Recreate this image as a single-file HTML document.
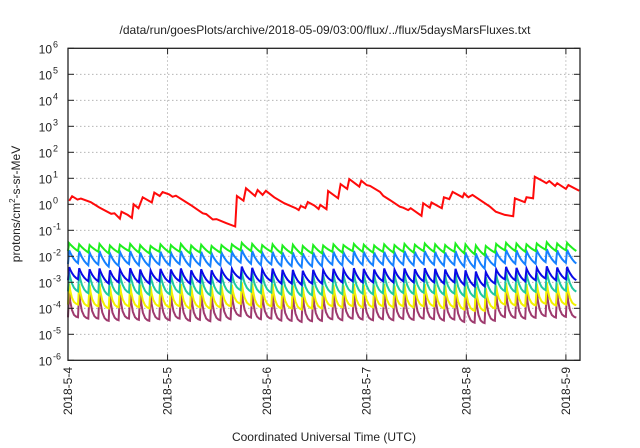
<!DOCTYPE html>
<html><head><meta charset="utf-8"><style>
html,body{margin:0;padding:0;background:#fff;}
svg{display:block;font-family:"Liberation Sans",sans-serif;}
</style></head><body>
<svg id="chart" width="640" height="448" viewBox="0 0 640 448" xmlns="http://www.w3.org/2000/svg">
<rect width="640" height="448" fill="#fff"/>
<text x="325" y="34" font-size="12" text-anchor="middle" fill="#222">/data/run/goesPlots/archive/2018-05-09/03:00/flux/../flux/5daysMarsFluxes.txt</text>
<g id="grid"></g>
<g id="series"></g>
<rect x="68" y="48.3" width="512" height="312" fill="none" stroke="#222" stroke-width="1.3"/>
<g id="axes"></g>
<text transform="translate(20,204) rotate(-90)" font-size="12" text-anchor="middle" fill="#222">protons/cm<tspan font-size="8" dy="-5">2</tspan><tspan dy="5">-s-sr-MeV</tspan></text>
<text x="324" y="441" font-size="12" text-anchor="middle" fill="#222">Coordinated Universal Time (UTC)</text>
</svg>
<script>
// ---- data ----
const dayLabels = ["2018-5-4","2018-5-5","2018-5-6","2018-5-7","2018-5-8","2018-5-9"];
const yExponents = [-6,-5,-4,-3,-2,-1,0,1,2,3,4,5,6];
const redHours = [0.3,1.0,2.3,3.1,5.5,7.5,10.4,11.2,12.5,12.9,14.4,15.4,15.8,17.0,18.0,20.2,20.8,22.1,22.8,24.4,25.2,26.0,29.6,32.5,33.3,34.9,35.8,38.1,40.3,40.7,42.3,42.9,45.1,45.7,46.9,47.7,49.7,52.1,54.9,55.6,56.1,57.2,57.8,59.4,60.4,60.8,62.3,62.7,65.1,65.7,67.3,67.8,70.2,70.7,72.0,72.8,75.2,76.0,77.6,80.0,80.8,82.0,82.6,85.2,85.6,87.2,87.6,90.1,90.6,91.9,92.7,95.1,95.5,96.5,97.5,101.7,103.1,105.3,107.3,107.7,110.1,110.5,112.1,112.5,114.4,115.3,116.0,117.4,117.9,120.0,120.6,123.2];
const redValues = [1.35,2.04,1.51,1.66,1.2,0.76,0.43,0.45,0.28,0.52,0.39,0.30,1.0,0.71,1.86,1.17,2.82,2.09,2.95,2.4,1.95,2.14,0.93,0.45,0.42,0.26,0.27,0.19,0.14,2.09,1.38,4.17,2.09,3.55,2.29,3.31,1.86,1.1,0.71,0.6,0.87,0.72,1.23,0.89,0.66,0.95,0.65,3.24,1.7,6.0,3.9,9.3,4.8,8.1,5.5,5.1,3.0,2.1,1.45,0.81,0.74,0.6,0.71,0.36,1.1,0.74,1.17,0.71,1.86,1.58,3.0,1.86,2.63,1.86,2.29,0.81,0.52,0.39,0.35,1.7,1.2,1.86,1.7,11.5,7.9,6.5,7.9,5.1,6.5,3.9,5.5,3.3];
const cycleHours = [0.0,2.4,4.9,7.3,9.8,12.2,14.7,17.1,19.6,22.0,24.5,26.9,29.4,31.8,34.3,36.7,39.2,41.6,44.1,46.5,49.0,51.4,53.9,56.3,58.8,61.2,63.7,66.1,68.6,71.0,73.5,75.9,78.4,80.8,83.3,85.7,88.2,90.6,93.1,95.5,98.0,100.4,102.9,105.3,107.8,110.2,112.7,115.1,117.6,120.0,122.5];
const greenPeaks = [3.2e-2,2.9e-2,2.7e-2,3.0e-2,2.6e-2,2.8e-2,3.0e-2,2.7e-2,2.5e-2,2.9e-2,2.7e-2,3.0e-2,2.6e-2,2.8e-2,2.5e-2,2.7e-2,2.9e-2,3.3e-2,3.0e-2,2.7e-2,2.9e-2,2.6e-2,2.8e-2,2.5e-2,2.7e-2,2.6e-2,2.9e-2,2.7e-2,3.0e-2,2.8e-2,2.6e-2,2.9e-2,2.7e-2,3.0e-2,2.8e-2,3.1e-2,2.9e-2,2.7e-2,3.1e-2,2.9e-2,2.6e-2,2.5e-2,3.0e-2,3.3e-2,3.1e-2,2.9e-2,3.1e-2,3.5e-2,3.1e-2,3.3e-2,3.1e-2];
const greenTroughs = [1.6e-2,1.6e-2,1.4e-2,1.5e-2,1.3e-2,1.4e-2,1.6e-2,1.4e-2,1.3e-2,1.5e-2,1.4e-2,1.5e-2,1.3e-2,1.4e-2,1.3e-2,1.4e-2,1.5e-2,1.7e-2,1.6e-2,1.4e-2,1.5e-2,1.3e-2,1.3e-2,1.2e-2,1.3e-2,1.3e-2,1.5e-2,1.4e-2,1.6e-2,1.5e-2,1.4e-2,1.5e-2,1.4e-2,1.5e-2,1.4e-2,1.6e-2,1.5e-2,1.4e-2,1.5e-2,1.3e-2,1.2e-2,1.1e-2,1.4e-2,1.7e-2,1.6e-2,1.5e-2,1.6e-2,1.8e-2,1.6e-2,1.7e-2,1.6e-2];
const lblueTroughs = [5.0e-3,5.5e-3,4.5e-3,4.8e-3,4.0e-3,4.3e-3,5.0e-3,4.5e-3,4.2e-3,4.8e-3,4.5e-3,5.0e-3,4.2e-3,4.6e-3,4.2e-3,4.5e-3,4.8e-3,5.8e-3,5.2e-3,4.6e-3,4.9e-3,4.3e-3,4.2e-3,3.8e-3,4.1e-3,4.2e-3,4.8e-3,4.5e-3,5.0e-3,4.7e-3,4.5e-3,4.8e-3,4.4e-3,4.8e-3,4.5e-3,5.0e-3,4.8e-3,4.4e-3,4.7e-3,4.0e-3,3.6e-3,3.4e-3,4.3e-3,5.5e-3,5.2e-3,4.9e-3,5.2e-3,6.0e-3,5.3e-3,5.6e-3,5.3e-3];
const lbluePeaks = [1.7e-2,1.6e-2,1.4e-2,1.6e-2,1.3e-2,1.5e-2,1.6e-2,1.4e-2,1.3e-2,1.5e-2,1.4e-2,1.6e-2,1.3e-2,1.5e-2,1.3e-2,1.4e-2,1.5e-2,1.8e-2,1.6e-2,1.4e-2,1.5e-2,1.4e-2,1.4e-2,1.3e-2,1.4e-2,1.4e-2,1.5e-2,1.4e-2,1.6e-2,1.5e-2,1.4e-2,1.5e-2,1.4e-2,1.6e-2,1.5e-2,1.6e-2,1.5e-2,1.4e-2,1.6e-2,1.4e-2,1.3e-2,1.2e-2,1.5e-2,1.8e-2,1.7e-2,1.6e-2,1.7e-2,1.9e-2,1.7e-2,1.8e-2,1.7e-2];
const dblueTroughs = [1.2e-3,1.3e-3,1.1e-3,1.1e-3,9e-4,1.0e-3,1.1e-3,1.0e-3,9e-4,1.1e-3,1.0e-3,1.1e-3,9e-4,1.0e-3,9e-4,1.0e-3,1.1e-3,1.4e-3,1.2e-3,1.0e-3,1.1e-3,9e-4,9e-4,8e-4,9e-4,9e-4,1.1e-3,1.0e-3,1.1e-3,1.0e-3,1.0e-3,1.1e-3,1.0e-3,1.1e-3,1.0e-3,1.1e-3,1.0e-3,9e-4,1.0e-3,8e-4,7e-4,7e-4,9e-4,1.3e-3,1.2e-3,1.1e-3,1.2e-3,1.4e-3,1.2e-3,1.3e-3,1.2e-3];
const dbluePeaks = [3.8e-3,3.5e-3,3.2e-3,3.4e-3,2.9e-3,3.2e-3,3.5e-3,3.1e-3,2.9e-3,3.3e-3,3.1e-3,3.4e-3,2.9e-3,3.2e-3,2.9e-3,3.1e-3,3.3e-3,4.0e-3,3.6e-3,3.2e-3,3.4e-3,3.0e-3,3.0e-3,2.8e-3,3.0e-3,3.0e-3,3.3e-3,3.1e-3,3.5e-3,3.3e-3,3.1e-3,3.4e-3,3.1e-3,3.4e-3,3.2e-3,3.5e-3,3.3e-3,3.1e-3,3.3e-3,2.9e-3,2.6e-3,2.5e-3,3.1e-3,3.9e-3,3.6e-3,3.4e-3,3.6e-3,4.1e-3,3.7e-3,3.9e-3,3.6e-3];
const tealTroughs = [4.5e-4,4.5e-4,3.8e-4,4.0e-4,3.2e-4,3.5e-4,4.0e-4,3.6e-4,3.3e-4,3.8e-4,3.5e-4,4.0e-4,3.3e-4,3.6e-4,3.2e-4,3.5e-4,3.8e-4,5.0e-4,4.4e-4,3.8e-4,4.0e-4,3.4e-4,3.3e-4,3.0e-4,3.2e-4,3.3e-4,3.8e-4,3.5e-4,4.0e-4,3.7e-4,3.5e-4,3.8e-4,3.5e-4,3.9e-4,3.6e-4,4.0e-4,3.8e-4,3.4e-4,3.7e-4,3.0e-4,2.7e-4,2.6e-4,3.3e-4,4.6e-4,4.3e-4,4.0e-4,4.3e-4,5.0e-4,4.4e-4,4.7e-4,4.4e-4];
const tealPeaks = [2.4e-3,2.2e-3,2.0e-3,2.2e-3,1.8e-3,2.0e-3,2.2e-3,2.0e-3,1.8e-3,2.1e-3,2.0e-3,2.2e-3,1.8e-3,2.0e-3,1.8e-3,2.0e-3,2.1e-3,2.6e-3,2.3e-3,2.0e-3,2.2e-3,1.9e-3,1.9e-3,1.7e-3,1.9e-3,1.9e-3,2.1e-3,2.0e-3,2.2e-3,2.1e-3,2.0e-3,2.2e-3,2.0e-3,2.2e-3,2.0e-3,2.2e-3,2.1e-3,1.9e-3,2.1e-3,1.8e-3,1.6e-3,1.6e-3,2.0e-3,2.5e-3,2.3e-3,2.2e-3,2.3e-3,2.6e-3,2.3e-3,2.5e-3,2.3e-3];
const yellowTroughs = [1.4e-4,1.4e-4,1.2e-4,1.2e-4,1.0e-4,1.1e-4,1.2e-4,1.1e-4,1.0e-4,1.2e-4,1.1e-4,1.2e-4,1.0e-4,1.1e-4,1.0e-4,1.1e-4,1.2e-4,1.5e-4,1.3e-4,1.1e-4,1.2e-4,1.0e-4,1.0e-4,9e-5,1.0e-4,1.0e-4,1.2e-4,1.1e-4,1.2e-4,1.1e-4,1.1e-4,1.2e-4,1.1e-4,1.2e-4,1.1e-4,1.2e-4,1.2e-4,1.0e-4,1.1e-4,9e-5,8e-5,8e-5,1.0e-4,1.4e-4,1.3e-4,1.2e-4,1.3e-4,1.5e-4,1.3e-4,1.4e-4,1.3e-4];
const yellowPeaks = [9e-4,8.5e-4,8e-4,8.5e-4,7e-4,8e-4,8.5e-4,8e-4,7e-4,8e-4,7.5e-4,8.5e-4,7e-4,8e-4,7e-4,7.5e-4,8e-4,1.0e-3,9e-4,8e-4,8.5e-4,7.5e-4,7.5e-4,6.5e-4,7e-4,7e-4,8e-4,7.5e-4,8.5e-4,8e-4,7.5e-4,8.5e-4,7.5e-4,8.5e-4,8e-4,8.5e-4,8e-4,7.5e-4,8e-4,7e-4,6.5e-4,6e-4,7.5e-4,9.5e-4,9e-4,8.5e-4,9e-4,1.0e-3,9e-4,9.5e-4,9e-4];
const purpleTroughs = [4.5e-5,4.5e-5,4.0e-5,4.0e-5,3.3e-5,3.5e-5,4.0e-5,3.6e-5,3.3e-5,3.8e-5,3.5e-5,4.0e-5,3.3e-5,3.6e-5,3.2e-5,3.5e-5,3.8e-5,5.0e-5,4.4e-5,3.8e-5,4.0e-5,3.4e-5,3.3e-5,3.0e-5,3.2e-5,3.3e-5,3.8e-5,3.5e-5,4.0e-5,3.7e-5,3.5e-5,3.8e-5,3.5e-5,3.9e-5,3.6e-5,4.0e-5,3.8e-5,3.4e-5,3.7e-5,3.0e-5,2.8e-5,2.7e-5,3.3e-5,4.6e-5,4.3e-5,4.0e-5,4.3e-5,5.0e-5,4.4e-5,4.7e-5,4.4e-5];
const purplePeaks = [4.5e-4,4.2e-4,4.0e-4,4.2e-4,3.5e-4,4.0e-4,4.2e-4,4.0e-4,3.5e-4,4.0e-4,3.8e-4,4.2e-4,3.5e-4,4.0e-4,3.5e-4,3.8e-4,4.0e-4,5.0e-4,4.5e-4,4.0e-4,4.2e-4,3.8e-4,3.8e-4,3.3e-4,3.5e-4,3.5e-4,4.0e-4,3.8e-4,4.2e-4,4.0e-4,3.8e-4,4.2e-4,3.8e-4,4.2e-4,4.0e-4,4.2e-4,4.0e-4,3.8e-4,4.0e-4,3.5e-4,3.3e-4,3.0e-4,3.8e-4,4.8e-4,4.5e-4,4.2e-4,4.5e-4,5.0e-4,4.5e-4,4.8e-4,4.5e-4];

// ---- layout ----
const X0=68, X1=580, Y0=360.3, Y1=48.3, HMAX=123.4;
const NS="http://www.w3.org/2000/svg";
function xs(h){return X0+(h/HMAX)*(X1-X0);}
function ys(v){const l=Math.log10(v);return Y0-(l+6)/12*(Y0-Y1);}
function mk(tag,attrs,parent){const e=document.createElementNS(NS,tag);for(const k in attrs)e.setAttribute(k,attrs[k]);parent.appendChild(e);return e;}
const grid=document.getElementById('grid'), axes=document.getElementById('axes'), series=document.getElementById('series');

yExponents.forEach(function(ex){
  const y=ys(Math.pow(10,ex));
  if(ex>-6&&ex<6){
    const g=mk('line',{x1:X0,x2:X1,y1:y,y2:y,stroke:'#aaa','stroke-width':0.8,'stroke-dasharray':'1.5,2.5'},grid);
    
    
  }
  const t1=mk('line',{x1:X0,x2:X0+6,y1:y,y2:y,stroke:'#222','stroke-width':1},axes);
  
  
  const t2=mk('line',{x1:X1-6,x2:X1,y1:y,y2:y,stroke:'#222','stroke-width':1},axes);
  
  
  const tx=mk('text',{x:52,y:y+5,'font-size':12,'text-anchor':'end',fill:'#222'},axes);
  
  
  tx.appendChild(document.createTextNode('10'));
  const sp=mk('tspan',{x:53,dy:-6,'font-size':9,'text-anchor':'start'},tx);
  sp.textContent=String(ex);
});

dayLabels.forEach(function(lab,i){
  const x=xs(i*24);
  if(i>0){
    const g=mk('line',{x1:x,x2:x,y1:Y1,y2:Y0,stroke:'#aaa','stroke-width':0.8,'stroke-dasharray':'1.5,2.5'},grid);
    
    
  }
  const t1=mk('line',{x1:x,x2:x,y1:Y0,y2:Y0-6,stroke:'#222','stroke-width':1},axes);
  
  
  const t2=mk('line',{x1:x,x2:x,y1:Y1,y2:Y1+6,stroke:'#222','stroke-width':1},axes);
  
  
  const tx=mk('text',{transform:'translate('+(x+4)+',367) rotate(-90)','font-size':12,'text-anchor':'end',fill:'#222'},axes);
  
  
  tx.textContent=lab;
});

function cyclePath(peaks,troughs,k){
  const pts=[];
  const fr=[0,0.12,0.3,0.55,0.8,1];
  pts.push([cycleHours[0],troughs[0]]);
  for(let i=0;i<cycleHours.length-1;i++){
    const t0=cycleHours[i], t1=cycleHours[i+1];
    const tp=t0+0.3;
    const lp=Math.log10(peaks[i]), lt=Math.log10(troughs[i+1]);
    const e1=Math.exp(-k);
    fr.forEach(function(f){
      const w=(Math.exp(-k*f)-e1)/(1-e1);
      pts.push([tp+(t1-tp)*f, Math.pow(10,lt+(lp-lt)*w)]);
    });
  }
  return pts.filter(p=>p[0]<=HMAX).map((p,i)=>(i?'L':'M')+xs(p[0]).toFixed(1)+','+ys(p[1]).toFixed(1)).join('');
}
const defs=[
  ['purple-series',purplePeaks,purpleTroughs,4,'#9e3a6e'],
  ['yellow-series',yellowPeaks,yellowTroughs,3.5,'#f2f200'],
  ['teal-series',tealPeaks,tealTroughs,2.5,'#20c8a0'],
  ['dark-blue-series',dbluePeaks,dblueTroughs,1.5,'#0a0ae6'],
  ['light-blue-series',lbluePeaks,lblueTroughs,1.2,'#1580ff'],
  ['green-series',greenPeaks,greenTroughs,0.6,'#1eee1e']
];
defs.forEach(function(d){
  const p=mk('path',{d:cyclePath(d[1],d[2],d[3]),fill:'none',stroke:d[4],'stroke-width':2,'stroke-linejoin':'miter'},series);
  
  
});
const rd=redHours.map((h,i)=>(i?'L':'M')+xs(h).toFixed(1)+','+ys(redValues[i]).toFixed(1)).join('');
const rp=mk('path',{d:rd,fill:'none',stroke:'#ff0a0a','stroke-width':2},series);


</script>
</body></html>
